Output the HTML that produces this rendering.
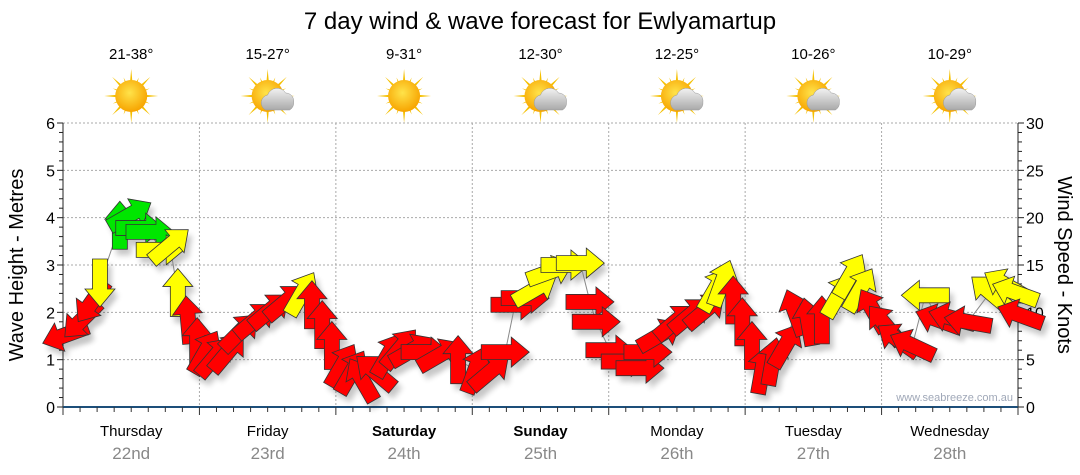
<!DOCTYPE html>
<html><head><meta charset="utf-8"><style>
body{margin:0;background:#fff;}
svg{display:block;font-family:"Liberation Sans","DejaVu Sans",sans-serif;}
</style></head><body>
<svg id="chart" width="1080" height="475" viewBox="0 0 1080 475" xmlns="http://www.w3.org/2000/svg">
<defs>
<radialGradient id="sunG" cx="45%" cy="40%" r="60%"><stop offset="0" stop-color="#ffe34a"/><stop offset="1" stop-color="#f7a400"/></radialGradient>
<linearGradient id="cloudG" x1="0" y1="0" x2="0" y2="1"><stop offset="0" stop-color="#f2f2f2"/><stop offset="1" stop-color="#a9a9a9"/></linearGradient>
<filter id="shadow" x="-50%" y="-50%" width="200%" height="200%"><feGaussianBlur stdDeviation="3"/></filter>
</defs>
<text x="540" y="29" font-size="24" text-anchor="middle" fill="#000">7 day wind &amp; wave forecast for Ewlyamartup</text>
<g id="grid"></g>
<g id="axes"></g>
<g id="icons"></g>
<g id="shadows" opacity="0.22"></g>
<g id="line"></g>
<g id="arrows"></g>
<text transform="translate(23,265) rotate(-90)" font-size="20" text-anchor="middle">Wave Height - Metres</text>
<text transform="translate(1058,265) rotate(90)" font-size="20" text-anchor="middle">Wind Speed - Knots</text>
<text x="1013" y="401" font-size="11" text-anchor="end" fill="#a0a8b8">www.seabreeze.com.au</text>
</svg>
<script>
const days = ["Thursday","Friday","Saturday","Sunday","Monday","Tuesday","Wednesday"];
const dates = ["22nd","23rd","24th","25th","26th","27th","28th"];
const boldDays = [false,false,true,true,false,false,false];
const temps = ["21-38°","15-27°","9-31°","12-30°","12-25°","10-26°","10-29°"];
const cloudy = [false,true,false,true,true,true,true];
const waveTicks = [0,1,2,3,4,5,6];
const windTicks = [0,5,10,15,20,25,30];
const hours = [0.4,3.3,5.1,6.5,10,11.8,13.5,15.3,17.1,18.8,20.2,22,23.6,25,26.7,29,31.1,33.8,36.4,39.1,42,43.8,45.6,47.3,49.1,50.8,52.6,54.9,57.2,59.3,61.4,63.7,66.3,69.5,72.5,75.1,77.8,79.5,81.3,83,85.7,88.3,91,92.7,93.8,96.2,98.9,101.5,102.9,105,107.7,110.3,113,114.7,115.9,117.9,119.5,121.2,123,124.8,127.1,128.8,131.1,133.5,136.4,138.5,140.2,142.5,144.6,146.9,149.4,151.7,154,156.4,159.2,163.1,165.8,167.5,168.4];
const speeds = [7.6,9.2,11.1,13.1,19.2,20.3,18.9,18.5,16.6,17.1,12.1,9.2,6.9,5.8,5.3,5.8,7.9,9.2,10.2,11.1,12,10.8,8.7,6.5,4.4,3.7,2.9,3.7,5.5,6.2,6,5.8,5.5,5,3.9,3.7,5.8,10.8,11.5,12.4,14.3,15,15.2,11.1,9,6,4.8,4.1,5.8,7.6,9,9.7,10.2,12.4,13.1,11.3,9,6.5,3.9,4.8,6.5,10,9,9.2,11.8,13.9,12.4,10.2,8.7,7.1,6.5,11.8,9.2,9.4,9,12.1,12.9,12.1,9.7];
const directions = [160,135,125,90,270,330,0,0,0,320,270,265,270,300,310,310,315,320,320,320,300,270,270,270,300,300,240,220,300,310,330,0,330,270,290,320,0,0,0,330,340,0,0,0,0,0,0,0,0,330,320,320,320,300,290,270,270,270,280,280,300,250,260,270,300,300,300,240,230,215,205,180,200,195,190,220,210,200,200];

const X0=63,X1=1018,Y0=407,Y1=123,dayW=(X1-X0)/7;
const xScale=h=>X0+h/24*dayW;
const yWave=m=>Y0-m/6*(Y0-Y1);
const yWind=k=>Y0-k/30*(Y0-Y1);
const NS="http://www.w3.org/2000/svg";
function mk(tag,attrs,parent,text){const e=document.createElementNS(NS,tag);for(const k in attrs)e.setAttribute(k,attrs[k]);if(text!==undefined)e.textContent=text;parent.appendChild(e);return e;}
const grid=document.getElementById('grid'),axes=document.getElementById('axes'),icons=document.getElementById('icons');
const line=document.getElementById('line'),arrows=document.getElementById('arrows'),shadows=document.getElementById('shadows');

waveTicks.forEach(v=>{
  if(v>0){const g=mk('line',{x1:X0,x2:X1,y1:yWave(v),y2:yWave(v),stroke:'#aaa','stroke-dasharray':'2,2'},grid);
  
  }
  const t=mk('text',{x:X0-8,y:yWave(v)+6,'font-size':16,'text-anchor':'end'},axes,String(v));
  
  
});
for(let m=0;m<=30;m++){const y=yWave(m*0.2);mk('line',{x1:X0-(m%5==0?6:4),x2:X0,y1:y,y2:y,stroke:'#222'},axes);}
windTicks.forEach(v=>{
  const t=mk('text',{x:X1+8,y:yWind(v)+6,'font-size':16},axes,String(v));
  
  
});
for(let k=0;k<=30;k++){const y=yWind(k);mk('line',{x1:X1,x2:X1+(k%5==0?6:4),y1:y,y2:y,stroke:'#222'},axes);}
mk('line',{x1:X0,x2:X0,y1:Y1,y2:Y0,stroke:'#222'},axes);
mk('line',{x1:X1,x2:X1,y1:Y1,y2:Y0,stroke:'#222'},axes);
mk('line',{x1:X0,x2:X1,y1:Y0,y2:Y0,stroke:'#1d4f7a','stroke-width':2},axes);
for(let h=0;h<=168;h+=3){const x=xScale(h);mk('line',{x1:x,x2:x,y1:Y0,y2:Y0+(h%24==0?8:5),stroke:'#333'},axes);}

days.forEach((d,i)=>{
  const cx=X0+(i+0.5)*dayW;
  if(i>0){const g=mk('line',{x1:X0+i*dayW,x2:X0+i*dayW,y1:Y1,y2:Y0,stroke:'#aaa','stroke-dasharray':'2,2'},grid);
  
  }
  const t=mk('text',{x:cx,y:436,'font-size':15,'text-anchor':'middle','font-weight':boldDays[i]?'bold':'normal'},axes,d);
  
  
  const t2=mk('text',{x:cx,y:459,'font-size':17,'text-anchor':'middle',fill:'#888'},axes,dates[i]);
  
  
  const t3=mk('text',{x:cx,y:59,'font-size':15,'text-anchor':'middle'},icons,temps[i]);
  
  
  const g=mk('g',{transform:'translate('+cx+',96)'},icons);
  
  
  for(let r=0;r<16;r++){const a=r*22.5,L=r%2?20:27;mk('polygon',{points:'-2.5,0 2.5,0 0,-'+L,fill:'#f5c000',transform:'rotate('+a+')'},g);}
  mk('circle',{r:16,fill:'url(#sunG)'},g);
  if(cloudy[i]){const c=mk('g',{transform:'translate(10,4)'},g);
    mk('path',{d:'M-12,10 a8,8 0 0 1 2,-15 a10,10 0 0 1 18,-2 a8,8 0 0 1 8,9 a8,8 0 0 1 -4,8 z',fill:'url(#cloudG)',stroke:'#999','stroke-width':0.5},c);}
});

const pts=hours.map((h,i)=>xScale(h)+','+yWind(speeds[i])).join(' ');
const pl=mk('polyline',{points:pts,fill:'none',stroke:'#888','stroke-width':1},line);



const arrowPath='M-24,-7.5 L6,-7.5 L6,-15 L24,0 L6,15 L6,7.5 L-24,7.5 Z';
function colorFor(s){return s>=18?'#00e600':(s>=11.6?'#ffff00':'#ff0000');}
hours.forEach((h,i)=>{
  const x=xScale(h),y=yWind(speeds[i]);
  mk('path',{d:arrowPath,fill:'#000',filter:'url(#shadow)',transform:'translate('+(x+4)+','+(y+6)+') rotate('+directions[i]+')'},shadows);
  const a=mk('path',{d:arrowPath,fill:colorFor(speeds[i]),stroke:'#333','stroke-width':0.8,transform:'translate('+x+','+y+') rotate('+directions[i]+')'},arrows);
  
  
});
</script>
</body></html>
